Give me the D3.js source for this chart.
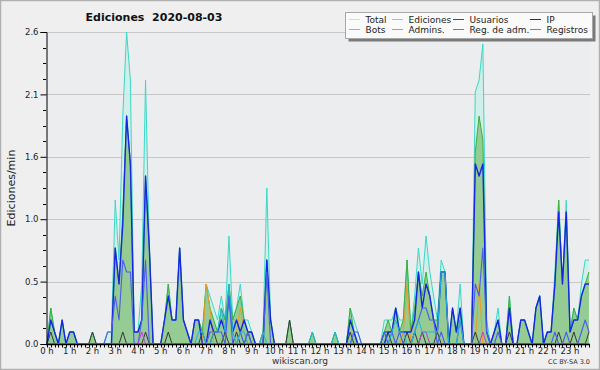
<!DOCTYPE html>
<html>
<head>
<meta charset="utf-8">
<script src="https://cdn.jsdelivr.net/npm/d3@7"></script>
<style>
  body { margin: 0; background: #efefef; }
  svg { display: block; }
  text { font-family: "DejaVu Sans", sans-serif; }
</style>
</head>
<body>
<script>
// tramos de 10 minutos, una fila por hora (0 h .. 23 h)
const hourLabels = d3.range(24).map(h => h + ' h');

const total = [
  0, .3, .1, 0, .2, 0,   .1, .1, 0, 0, 0, 0,   .1, 0, 0, 0, .1, .1,   1.2, .7, 1.9, 2.6, 2.2, .1,
  .1, .5, 2.2, .8, 0, 0,   0, .2, .5, .2, .2, .8,   .2, .1, 0, .2, .2, .1,   .5, .4, .3, .2, .4, .2,
  .9, .2, .3, .5, .2, .2,   .1, 0, 0, .1, 1.3, .2,   0, 0, 0, 0, .2, 0,   0, 0, 0, 0, .1, 0,
  0, 0, 0, 0, .1, 0,   0, 0, .3, .2, .1, 0,   0, 0, 0, 0, 0, .2,   .2, .2, .3, .2, .2, .7,
  .1, .4, .8, .5, .9, .6,   .4, .2, .7, .6, 0, .3,   .1, .5, 0, 0, 0, 2.1,   2.2, 2.5, .2, 0, .1, .3,
  0, 0, .4, 0, 0, .2,   .2, .1, 0, .3, .4, 0,   .1, .1, .6, 1.2, .5, 1.2,   .1, .3, .2, .5, .7, .7
];
const ediciones = [
  0, .3, .1, 0, .2, 0,   .1, .1, 0, 0, 0, 0,   .1, 0, 0, 0, 0, 0,   .8, .5, 1.1, 1.9, 1.5, .1,
  .1, .2, 1.4, .8, 0, 0,   0, .2, .5, .2, .2, .8,   .2, .1, 0, .2, .2, .1,   .5, .3, .2, .1, .3, .2,
  .5, .2, .3, .4, .2, .1,   .1, 0, 0, .1, .7, .2,   0, 0, 0, 0, .2, 0,   0, 0, 0, 0, .1, 0,
  0, 0, 0, 0, .1, 0,   0, 0, .3, .1, 0, 0,   0, 0, 0, 0, 0, .1,   .2, .1, .3, .1, .2, .7,
  .1, .3, .6, .4, .6, .4,   .2, .2, .6, .6, 0, .3,   .1, .3, 0, 0, 0, 1.6,   1.9, 1.7, .1, 0, .1, .2,
  0, 0, .4, 0, 0, .2,   .2, .1, 0, .3, .4, 0,   .1, .1, .5, 1.2, .5, 1.1,   .1, .3, .2, .4, .5, .6
];
const usuarios = [
  0, .2, .1, 0, .2, 0,   .1, .1, 0, 0, 0, 0,   0, 0, 0, 0, 0, 0,   .8, .5, 1.0, 1.9, 1.5, .1,
  .1, .2, 1.4, .8, 0, 0,   0, .2, .4, .2, .2, .8,   .2, .1, 0, .2, .2, 0,   0, .2, .1, .1, .2, .1,
  .4, .1, .2, .1, .2, .1,   .1, 0, 0, 0, .7, .2,   0, 0, 0, 0, 0, 0,   0, 0, 0, 0, 0, 0,
  0, 0, 0, 0, 0, 0,   0, 0, .2, .1, 0, 0,   0, 0, 0, 0, 0, 0,   .1, .1, .3, .1, .1, .1,
  .1, .2, .6, .3, .5, .4,   .2, .1, .6, .6, 0, .3,   .1, .3, 0, 0, 0, 1.5,   1.4, 1.5, .1, 0, .1, .2,
  0, 0, .3, 0, 0, .2,   .2, .1, 0, .3, .4, 0,   .1, .1, .5, 1.1, .5, 1.1,   .1, .2, .2, .4, .5, .5
];
const ip = [
  0, .1, 0, 0, 0, 0,   0, 0, 0, 0, 0, 0,   .1, 0, 0, 0, 0, 0,   0, 0, .1, 0, 0, 0,
  0, 0, .1, 0, 0, 0,   0, 0, .1, 0, 0, 0,   0, 0, 0, 0, 0, .1,   0, 0, .1, 0, 0, .1,
  0, 0, .1, 0, 0, .1,   0, 0, 0, 0, 0, 0,   0, 0, 0, 0, .2, 0,   0, 0, 0, 0, 0, 0,
  0, 0, 0, 0, 0, 0,   0, 0, .1, 0, 0, 0,   0, 0, 0, 0, 0, .1,   .1, 0, 0, 0, 0, .1,
  0, .1, 0, .1, 0, 0,   0, .1, 0, 0, 0, 0,   0, 0, 0, 0, 0, .1,   0, 0, 0, 0, 0, 0,
  0, 0, .1, 0, 0, 0,   0, 0, 0, 0, 0, 0,   0, 0, 0, .1, 0, 0,   0, .1, 0, 0, 0, .1
];
const bots = [
  0, 0, 0, 0, 0, 0,   0, 0, 0, 0, 0, 0,   0, 0, 0, 0, 0, 0,   0, 0, 0, 0, 0, 0,
  0, 0, 0, 0, 0, 0,   0, 0, 0, 0, 0, 0,   0, 0, 0, 0, 0, 0,   .5, .3, 0, 0, 0, 0,
  0, 0, .1, .3, .1, 0,   0, 0, 0, 0, 0, 0,   0, 0, 0, 0, 0, 0,   0, 0, 0, 0, 0, 0,
  0, 0, 0, 0, 0, 0,   0, 0, 0, 0, 0, 0,   0, 0, 0, 0, 0, 0,   0, 0, 0, 0, .1, .5,
  0, 0, 0, 0, 0, 0,   0, 0, 0, 0, 0, 0,   0, 0, 0, 0, 0, 0,   .5, 0, 0, 0, 0, 0,
  0, 0, 0, 0, 0, 0,   0, 0, 0, 0, 0, 0,   0, 0, 0, 0, 0, 0,   0, 0, 0, 0, 0, 0
];
const admins = [
  0, 0, 0, 0, 0, 0,   0, 0, 0, 0, 0, 0,   0, 0, 0, 0, 0, 0,   0, 0, 0, 0, 0, 0,
  0, 0, 0, 0, 0, 0,   0, 0, 0, 0, 0, 0,   0, 0, 0, 0, .1, .1,   0, 0, .1, .1, .3, .1,
  .5, .1, 0, .1, .1, 0,   0, 0, 0, .1, 0, 0,   0, 0, 0, 0, 0, 0,   0, 0, 0, 0, .1, 0,
  0, 0, 0, 0, .1, 0,   0, 0, 0, 0, 0, 0,   0, 0, 0, 0, 0, 0,   0, .1, .2, .1, .1, 0,
  0, .1, .2, .1, .1, .1,   .1, .1, .6, .6, 0, 0,   0, .2, 0, 0, 0, 0,   0, 0, 0, 0, 0, 0,
  0, 0, 0, 0, 0, 0,   0, 0, 0, 0, 0, 0,   0, 0, 0, 0, 0, 0,   0, 0, 0, 0, 0, 0
];
const regAdm = [
  0, 0, 0, 0, 0, 0,   0, 0, 0, 0, 0, 0,   0, 0, 0, 0, 0, 0,   0, 0, 0, 0, 0, 0,
  0, .1, 0, 0, 0, 0,   0, 0, 0, 0, 0, 0,   0, 0, 0, 0, 0, 0,   0, 0, 0, 0, 0, 0,
  0, 0, 0, 0, 0, 0,   0, 0, 0, 0, 0, 0,   0, 0, 0, 0, 0, 0,   0, 0, 0, 0, 0, 0,
  0, 0, 0, 0, 0, 0,   0, 0, 0, 0, 0, 0,   0, 0, 0, 0, 0, 0,   0, 0, 0, 0, 0, 0,
  0, 0, 0, .1, .1, 0,   0, 0, 0, 0, 0, 0,   0, 0, 0, 0, 0, 0,   0, .1, 0, 0, 0, 0,
  0, 0, 0, 0, 0, 0,   0, 0, 0, 0, 0, 0,   0, 0, 0, 0, 0, 0,   0, 0, 0, 0, 0, 0
];
const registros = [
  0, 0, 0, 0, 0, 0,   0, 0, 0, 0, 0, 0,   0, 0, 0, 0, .1, .1,   .4, .2, .7, .6, .6, 0,
  0, .2, .7, 0, 0, 0,   0, 0, 0, 0, 0, 0,   0, 0, 0, 0, 0, 0,   0, .1, .1, .1, .1, 0,
  .4, 0, 0, .1, 0, .1,   0, 0, 0, 0, .6, 0,   0, 0, 0, 0, 0, 0,   0, 0, 0, 0, 0, 0,
  0, 0, 0, 0, 0, 0,   0, 0, 0, .1, .1, 0,   0, 0, 0, 0, 0, .1,   0, .1, 0, .1, 0, 0,
  0, .1, .2, .3, .3, .2,   .2, 0, .1, 0, 0, 0,   0, .2, 0, 0, 0, .5,   .4, .8, .1, 0, 0, .1,
  0, 0, 0, 0, 0, 0,   0, 0, 0, 0, 0, 0,   0, 0, .1, 0, 0, .1,   0, 0, 0, .1, .2, .1
];

const yTicks = [0, 0.52, 1.04, 1.56, 2.08, 2.6];
const legendNames = ['Total', 'Ediciones', 'Usuarios', 'IP', 'Bots', 'Admins.', 'Reg. de adm.', 'Registros'];
const legendColors = ['#b4e8e0', '#90d490', '#3a3ad8', '#303030', '#f0a040', '#40c8d8', '#d040d0', '#7474ee'];

const W = 600, H = 370;
const svg = d3.select('body').append('svg').attr('width', W).attr('height', H);

// fondo y marco
svg.append('rect').attr('x', 0.5).attr('y', 0.5).attr('width', W - 1).attr('height', H - 1)
  .attr('fill', '#efefef').attr('stroke', '#b0b0b0').attr('stroke-width', 1.5);

const x = d3.scaleLinear().domain([0, 143]).range([47, 589]);
const y = d3.scaleLinear().domain([0, 2.6]).range([344, 32]);

svg.append('rect').attr('x', 46).attr('y', 32).attr('width', 544).attr('height', 312).attr('fill', '#ecedef');

// rejilla horizontal
svg.append('g').selectAll('line').data(yTicks.slice(1)).join('line')
  .attr('x1', 46).attr('x2', 590)
  .attr('y1', d => Math.round(y(d)) + 0.5).attr('y2', d => Math.round(y(d)) + 0.5)
  .attr('stroke', '#c8c8c8');

const idx = d3.range(144);
const line = s => d3.line().x(i => x(i)).y(i => y(s[i]))(idx);
const area = s => d3.area().x(i => x(i)).y0(y(0)).y1(i => y(s[i]))(idx);

// areas
svg.append('path').attr('d', area(total)).attr('fill', '#cdeee8').attr('opacity', 0.85);
svg.append('path').attr('d', area(ediciones)).attr('fill', '#94cc94');

// lineas
const series = [
  [total, '#3ad8c8', 1],
  [ediciones, '#3cb03c', 1],
  [bots, '#f09a28', 1],
  [ip, '#383838', 1],
  [usuarios, '#1426e6', 1.4],
  [registros, '#4c5cf0', 1.1],
  [regAdm, '#c838d8', 1],
  [admins, '#22b4dc', 1]
];
series.forEach(([s, c, w]) => {
  svg.append('path').attr('d', line(s)).attr('fill', 'none')
    .attr('stroke', c).attr('stroke-width', w).attr('stroke-linejoin', 'round');
});

// eje y
const yAxis = d3.axisLeft(y).tickValues(yTicks).tickFormat(d3.format('.1f')).tickSize(6).tickPadding(2);
const gy = svg.append('g').attr('transform', 'translate(46.5,0)').call(yAxis);
gy.selectAll('text').attr('font-family', '"Liberation Sans", sans-serif').attr('font-size', 8.5).attr('fill', '#222');
gy.select('.domain').attr('stroke', '#000');
svg.append('g').selectAll('line').data(d3.range(1, 20).filter(k => k % 4 !== 0).map(k => k * 0.13)).join('line')
  .attr('x1', 43).attr('x2', 46)
  .attr('y1', d => Math.round(y(d)) + 0.5).attr('y2', d => Math.round(y(d)) + 0.5)
  .attr('stroke', '#000');

// eje x
svg.append('line').attr('x1', 46).attr('x2', 590).attr('y1', 344.5).attr('y2', 344.5).attr('stroke', '#000').attr('stroke-width', 1.5);
svg.append('g').selectAll('line').data(idx).join('line')
  .attr('x1', i => Math.round(x(i)) + 0.5).attr('x2', i => Math.round(x(i)) + 0.5)
  .attr('y1', 344).attr('y2', 347.5).attr('stroke', '#000');
svg.append('g').selectAll('text').data(hourLabels).join('text')
  .attr('x', (d, h) => x(h * 6)).attr('y', 353.5)
  .attr('text-anchor', 'middle').attr('font-family', '"Liberation Sans", sans-serif')
  .attr('font-size', 8.5).attr('fill', '#222').text(d => d);

// titulo y textos
svg.append('text').attr('x', 154).attr('y', 21).attr('text-anchor', 'middle')
  .attr('font-size', 11).attr('font-weight', 'bold').attr('fill', '#111')
  .attr('xml:space', 'preserve').text('Ediciones  2020-08-03');
svg.append('text').attr('transform', 'translate(15,188) rotate(-90)').attr('text-anchor', 'middle')
  .attr('font-size', 11).attr('fill', '#222').text('Ediciones/min');
svg.append('text').attr('x', 300).attr('y', 364).attr('text-anchor', 'middle')
  .attr('font-family', '"Liberation Sans", sans-serif').attr('font-size', 9).attr('fill', '#333').text('wikiscan.org');
svg.append('text').attr('x', 590).attr('y', 364).attr('text-anchor', 'end')
  .attr('font-family', '"Liberation Sans", sans-serif').attr('font-size', 6.5).attr('fill', '#333').text('CC BY-SA 3.0');

// leyenda
const lg = svg.append('g');
lg.append('rect').attr('x', 348.5).attr('y', 15.5).attr('width', 247).attr('height', 26).attr('fill', '#7a7a7a');
lg.append('rect').attr('x', 345.5).attr('y', 12.5).attr('width', 247).attr('height', 26)
  .attr('fill', '#fafafa').attr('stroke', '#a8a8a8');
const colX = [349, 392, 453, 530];
const item = lg.selectAll('g.item').data(legendNames).join('g')
  .attr('transform', (d, k) => `translate(${colX[k % 4]},${k < 4 ? 19 : 29})`);
item.append('line').attr('x1', 0).attr('x2', 11).attr('y1', 0.5).attr('y2', 0.5)
  .attr('stroke', (d, k) => legendColors[k]);
item.append('text').attr('x', 16.5).attr('y', 3.5).attr('font-size', 9).attr('fill', '#222').text(d => d);
</script>
</body>
</html>
